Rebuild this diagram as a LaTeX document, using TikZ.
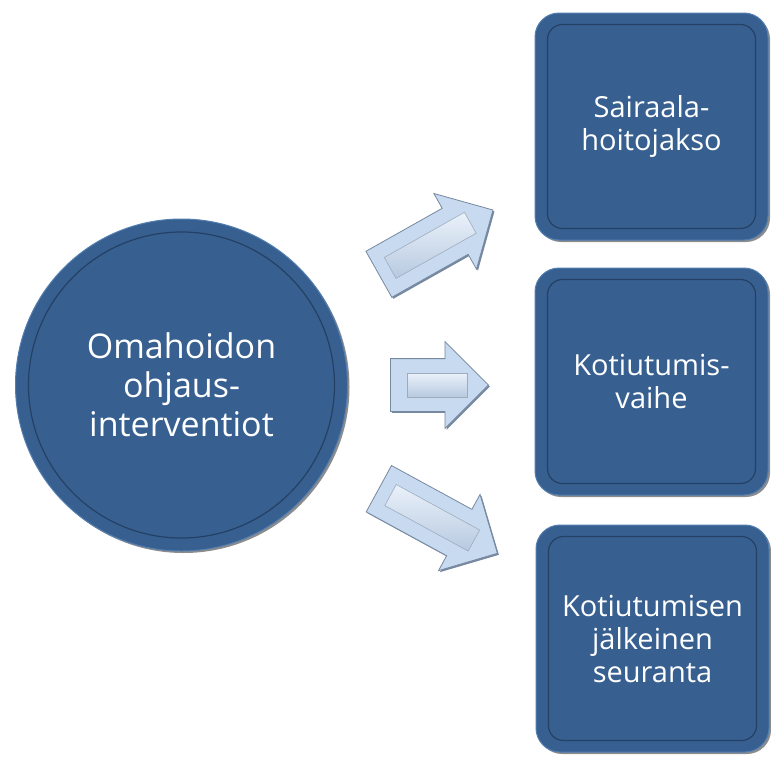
\documentclass[tikz,border=0pt]{standalone}
\usepackage{fontspec}
\setmainfont{Open Sans}
\usetikzlibrary{positioning,calc,shapes.arrows,shadows}

\definecolor{boxblue}{RGB}{55,96,145}
\definecolor{rimdark}{RGB}{36,64,99}
\definecolor{rimlight}{RGB}{82,126,176}
\definecolor{arrowfill}{RGB}{200,218,240}
\definecolor{arrowedge}{RGB}{118,137,160}
\definecolor{bevellight}{RGB}{234,241,250}

\begin{document}
\begin{tikzpicture}[x=1pt,y=-1pt,
    hub/.style={circle, fill=boxblue, draw=rimlight, line width=1pt, minimum size=332pt,
        text=white, align=center, font=\fontsize{34}{39}\selectfont,
        drop shadow={shadow xshift=2pt, shadow yshift=-2pt, fill=black, opacity=.45}},
    phase/.style={rectangle, rounded corners=24pt, fill=boxblue, draw=rimlight, line width=1pt,
        minimum width=233pt, minimum height=227pt, text=white, align=center,
        font=\fontsize{29}{33}\selectfont,
        drop shadow={shadow xshift=2pt, shadow yshift=-2pt, fill=black, opacity=.45}},
    rim/.style={draw=rimdark, line width=1.2pt},
    blockarrow/.style={single arrow, fill=arrowfill, draw=arrowedge, line width=.8pt,
        inner xsep=0pt, inner ysep=26pt, single arrow head extend=17pt, anchor=tail,
        drop shadow={shadow xshift=1.5pt, shadow yshift=-1.5pt, fill=arrowedge, opacity=1}},
    bevel/.style={rectangle, minimum height=24pt, inner sep=0pt, draw=arrowedge!70, line width=.6pt,
        top color=bevellight, bottom color=arrowfill!80!arrowedge, sloped}
  ]

  \path[fill=white, use as bounding box] (0,0) rectangle (771,756);

  % the hub and the three phases
  \node[hub] (hub) at (181.5,385) {Omahoidon\\ohjaus-\\interventiot};
  \draw[rim] (hub.center) circle[radius=153pt];

  \node[phase] (stay) at (651.5,126.5) {Sairaala-\\hoitojakso};
  \node[phase] (discharge) at (651.5,381.5) {Kotiutumis-\\vaihe};
  \node[phase] (followup) at (652.5,638.5) {Kotiutumisen\\jälkeinen\\seuranta};

  \foreach \p in {stay,discharge,followup}
    \draw[rim, rounded corners=15pt] ([shift={(13pt,-12pt)}]\p.north west) rectangle ([shift={(-13pt,12pt)}]\p.south east);

  % block arrows
  \node[blockarrow, rotate=29.4, minimum height=131pt] (toStay) at (378.5,274.5) {};
  \node[blockarrow, minimum height=98pt] (toDischarge) at (390,385) {};
  \node[blockarrow, rotate=-28.6, minimum height=135pt] (toFollowup) at (378.5,488.5) {};

  \path (toStay.tail) -- (toStay.tip) node[bevel, pos=.45, minimum width=92pt] {};
  \path (toDischarge.tail) -- (toDischarge.tip) node[bevel, pos=.48, minimum width=60pt] {};
  \path (toFollowup.tail) -- (toFollowup.tip) node[bevel, pos=.45, minimum width=95pt] {};

\end{tikzpicture}
\end{document}
